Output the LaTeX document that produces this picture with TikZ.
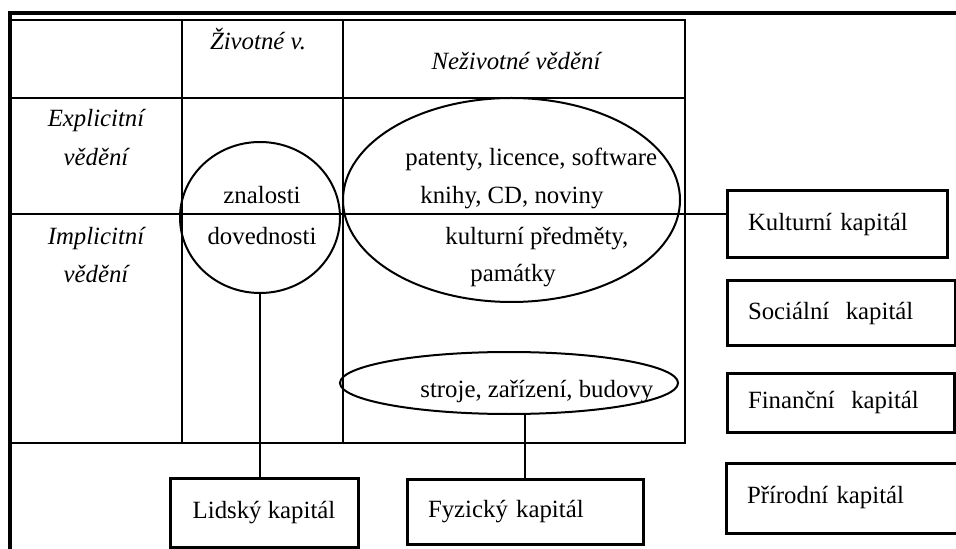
\documentclass[tikz,border=0pt]{standalone}
\usepackage{fontspec}
\setmainfont{Liberation Serif}
\usetikzlibrary{shapes.geometric}

\begin{document}
\begin{tikzpicture}[x=0.5pt,y=-0.5pt,
  txt/.style={anchor=base,inner sep=0pt,font=\fontsize{12.4}{14}\selectfont},
  lbl/.style={txt,font=\fontsize{12.4}{14}\selectfont\itshape},
  oval/.style={ellipse,draw,line width=1pt,inner sep=0pt},
  kbox/.style={draw,line width=1.5pt,inner xsep=10.5pt,align=left,font=\fontsize{12.4}{14}\selectfont}]
\useasboundingbox (0,0) rectangle (956,549);
\draw[line width=2pt] (10,549) -- (10,13) -- (960,13);
\draw[line width=0.6pt] (10,443) -- (685,443) -- (685,20) -- (12,20);
\draw[line width=0.6pt] (182,20) -- (182,443);
\draw[line width=0.6pt] (343,20) -- (343,443);
\draw[line width=0.6pt] (12,98) -- (685,98);
\draw[line width=0.6pt] (12,214) -- (685,214);

\node[lbl] (ziv) at (258,50) {Životné v.};
\node[lbl] (neziv) at (516,70) {Neživotné vědění};
\node[lbl] (expl) at (96,127) {Explicitní};
\node[lbl] (expl2) at (96,166) {vědění};
\node[lbl] (impl) at (96,245) {Implicitní};
\node[lbl] (impl2) at (96,283) {vědění};

\node[oval,minimum width=80pt,minimum height=75.5pt] (circ) at (260,217.5) {};
\node[oval,minimum width=168.5pt,minimum height=102pt] (big) at (511.5,200) {};
\node[oval,minimum width=169pt,minimum height=31pt] (small) at (509,383) {};

\node[txt] (zn) at (262,204) {znalosti};
\node[txt] (dov) at (262,245) {dovednosti};
\node[txt,anchor=base west] (pat) at (405,166) {patenty, licence, software};
\node[txt,anchor=base west] (kn) at (420,204) {knihy, CD, noviny};
\node[txt,anchor=base west] (pred) at (445,245) {kulturní předměty,};
\node[txt,anchor=base west] (pam) at (470,282) {památky};
\node[txt,anchor=base west] (str) at (420,397) {stroje, zařízení, budovy};

\node[kbox,minimum width=94pt,minimum height=34.5pt] (lid) at (264,512.5) {Lidský kapitál};
\node[kbox,text width=97pt,minimum height=32.5pt] (fyz) at (525,511.5) {Fyzický kapitál};
\node[kbox,text width=89pt,minimum height=33.5pt] (kul) at (837,224.5) {Kulturní kapitál};
\node[kbox,text width=93pt,minimum height=32.5pt] (soc) at (841,313.5) {Sociální\ \ kapitál};
\node[kbox,text width=92.5pt,minimum height=29.5pt] (fin) at (840.5,402.5) {Finanční\ \ kapitál};
\node[kbox,text width=97pt,minimum height=35pt] (pri) at (844,498) {Přírodní kapitál};

\draw[line width=1pt] (circ.south) -- (circ.south |- lid.north);
\draw[line width=1pt] (fyz.north) -- (fyz.north |- small.south);
\coordinate (kk) at (681,214);
\draw[line width=0.8pt] (kk) -- (kk -| kul.west);
\end{tikzpicture}
\end{document}
